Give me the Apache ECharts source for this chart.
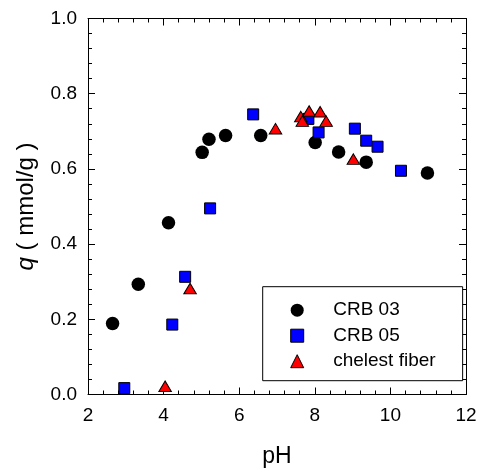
<!DOCTYPE html>
<html>
<head>
<meta charset="utf-8">
<script src="https://cdn.jsdelivr.net/npm/echarts@6/dist/echarts.min.js"></script>
<style>html,body{margin:0;padding:0;background:#fff;}#c{width:478px;height:470px;}</style>
</head>
<body>
<div id="c"></div>
<script>
const xTicks = [2, 4, 6, 8, 10, 12];
const yTicks = [0.0, 0.2, 0.4, 0.6, 0.8, 1.0];
const seriesNames = ['CRB 03', 'CRB 05', 'chelest fiber'];
const crb03_pH = [2.65, 3.33, 4.13, 5.02, 5.20, 5.64, 6.57, 8.01, 8.63, 9.36, 10.98];
const crb03_q  = [0.189, 0.293, 0.457, 0.644, 0.679, 0.689, 0.689, 0.670, 0.645, 0.618, 0.589];
const crb05_pH = [2.96, 4.23, 4.57, 5.23, 6.37, 7.83, 8.10, 9.06, 9.36, 9.66, 10.28];
const crb05_q  = [0.017, 0.186, 0.313, 0.495, 0.745, 0.733, 0.697, 0.707, 0.675, 0.659, 0.595];
const fiber_pH = [4.04, 4.70, 6.96, 7.63, 7.67, 7.85, 8.14, 8.30, 9.02];
const fiber_q  = [0.022, 0.282, 0.707, 0.739, 0.727, 0.754, 0.752, 0.727, 0.626];

const zip = (a, b) => a.map((v, i) => [v, b[i]]);
const FONT = 'Liberation Sans';
const axisCommon = {
  min: xTicks[0], max: xTicks[xTicks.length - 1], interval: xTicks[1] - xTicks[0],
};
const lineStyle = { color: '#000', width: 1 };
const chart = echarts.init(document.getElementById('c'), null, { renderer: 'canvas' });
chart.setOption({
  backgroundColor: '#fff',
  animation: false,
  textStyle: { fontFamily: FONT },
  grid: { left: 88, right: 12, top: 18.5, bottom: 75.5, containLabel: false, outerBoundsMode: 'none' },
  xAxis: [{
    type: 'value', ...axisCommon, position: 'bottom',
    name: 'pH', nameLocation: 'middle', nameGap: 51,
    nameTextStyle: { fontSize: 23, color: '#000', fontFamily: FONT },
    axisLine: { show: true, onZero: false, lineStyle },
    axisTick: { show: true, inside: true, length: 7, lineStyle },
    minorTick: { show: true, splitNumber: 5, length: 4, lineStyle },
    axisLabel: { fontSize: 19, color: '#000', margin: 12, fontFamily: FONT, formatter: v => String(v) },
    splitLine: { show: false }
  }, {
    type: 'value', ...axisCommon, position: 'top',
    axisLine: { show: true, onZero: false, lineStyle },
    axisTick: { show: true, inside: true, length: 7, lineStyle },
    minorTick: { show: true, splitNumber: 5, length: 4, lineStyle },
    axisLabel: { show: false }, splitLine: { show: false }
  }],
  yAxis: [{
    type: 'value', min: yTicks[0], max: yTicks[yTicks.length - 1], interval: yTicks[1] - yTicks[0],
    position: 'left',
    name: '{i|q} ( mmol/g )', nameLocation: 'middle', nameGap: 50,
    nameTextStyle: { fontSize: 24, color: '#000', fontFamily: FONT,
      rich: { i: { fontStyle: 'italic', fontSize: 24, fontFamily: FONT, color: '#000' } } },
    axisLine: { show: true, onZero: false, lineStyle },
    axisTick: { show: true, inside: true, length: 7, lineStyle },
    minorTick: { show: true, splitNumber: 5, length: 4, lineStyle },
    axisLabel: { fontSize: 19, color: '#000', margin: 11, fontFamily: FONT, formatter: v => v.toFixed(1) },
    splitLine: { show: false }
  }, {
    type: 'value', min: yTicks[0], max: yTicks[yTicks.length - 1], interval: yTicks[1] - yTicks[0],
    position: 'right',
    axisLine: { show: true, onZero: false, lineStyle },
    axisTick: { show: true, inside: true, length: 7, lineStyle },
    minorTick: { show: true, splitNumber: 5, length: 4, lineStyle },
    axisLabel: { show: false }, splitLine: { show: false }
  }],
  legend: {
    orient: 'vertical', left: 262.7, top: 286.7,
    itemWidth: 13, itemHeight: 13, itemGap: 6.5,
    symbolKeepAspect: true,
    padding: [14, 27, 10, 27.5],
    borderColor: '#000', borderWidth: 1, backgroundColor: '#fff',
    textStyle: { fontSize: 19, color: '#000', fontFamily: FONT, padding: [0, 0, 0, 24.5] },
    data: [
      { name: seriesNames[0], icon: 'circle', itemStyle: { color: '#000', borderWidth: 0 } },
      { name: seriesNames[1], icon: 'rect', itemStyle: { color: '#0000ff', borderColor: '#000', borderWidth: 1 } },
      { name: seriesNames[2], icon: 'triangle', itemStyle: { color: '#ff0000', borderColor: '#000', borderWidth: 1 } }
    ]
  },
  series: [{
    name: seriesNames[0], type: 'scatter', data: zip(crb03_pH, crb03_q),
    symbol: 'circle', symbolSize: 13.5,
    itemStyle: { color: '#000', opacity: 1 }
  }, {
    name: seriesNames[1], type: 'scatter', data: zip(crb05_pH, crb05_q),
    symbol: 'rect', symbolSize: 11,
    itemStyle: { color: '#0000ff', borderColor: '#000', borderWidth: 1, opacity: 1 }
  }, {
    name: seriesNames[2], type: 'scatter', data: zip(fiber_pH, fiber_q),
    symbol: 'triangle', symbolSize: [12.5, 10.5],
    itemStyle: { color: '#ff0000', borderColor: '#000', borderWidth: 1, opacity: 1 }
  }]
});
</script>
</body>
</html>
